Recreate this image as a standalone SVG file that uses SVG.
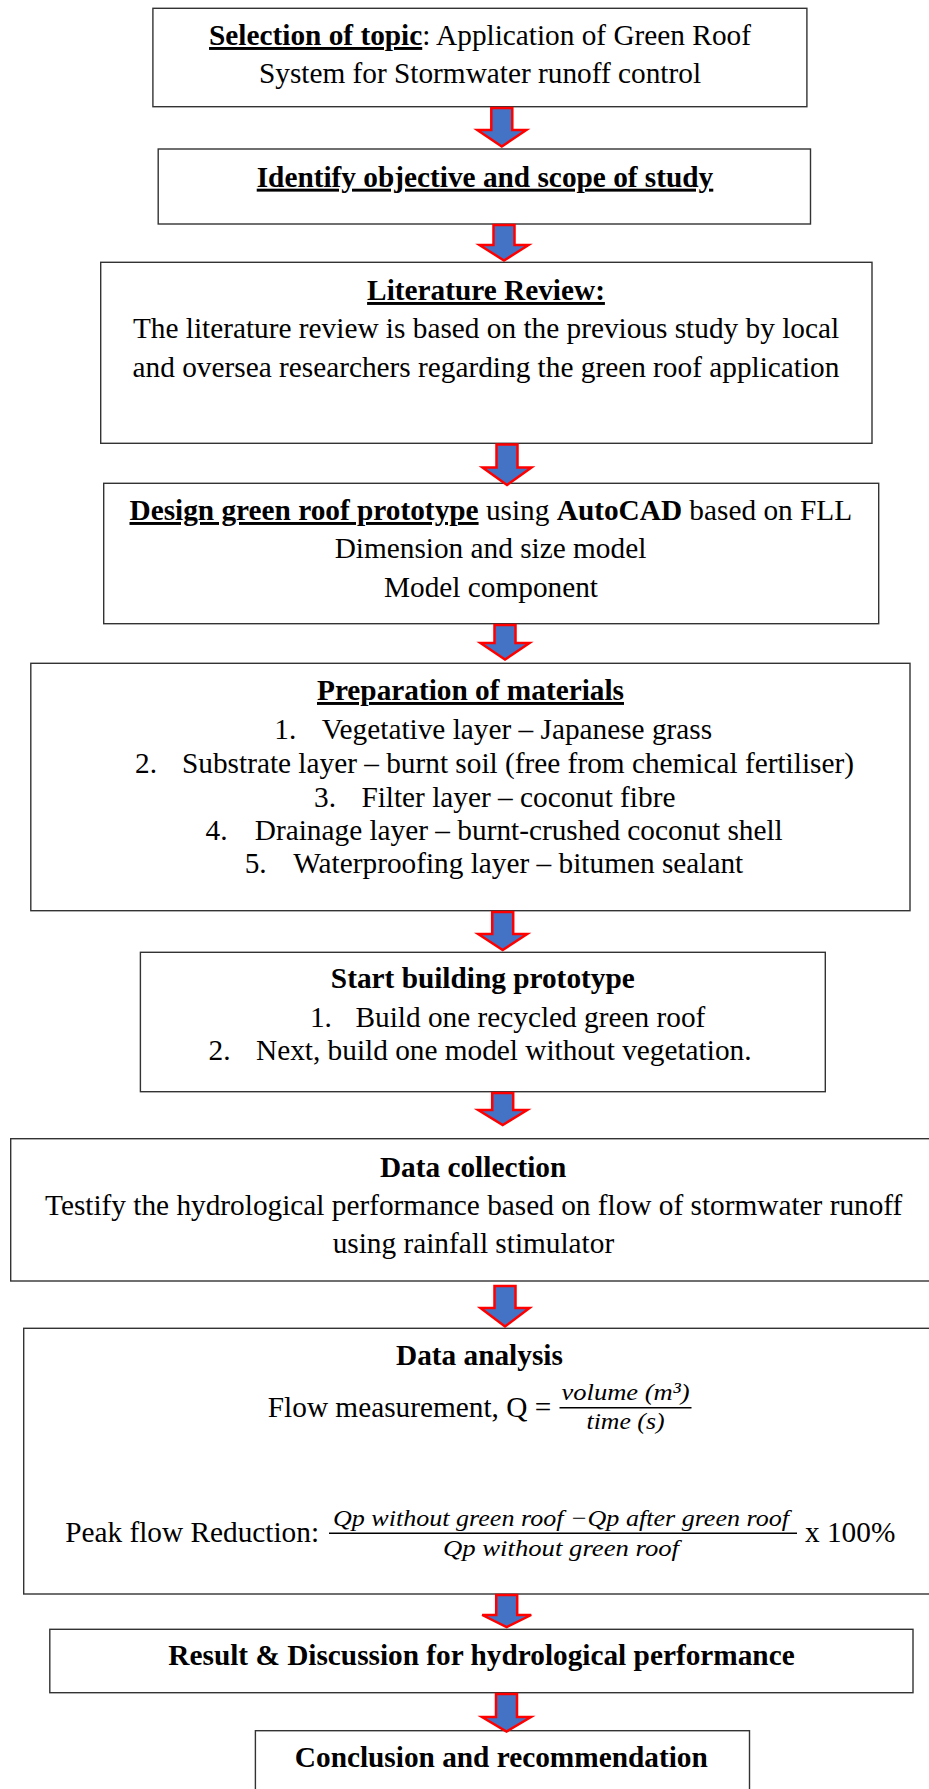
<svg xmlns="http://www.w3.org/2000/svg" width="929" height="1789" viewBox="0 0 929 1789">
<style>
.box{fill:#fff;stroke:#333;stroke-width:1.4}
.t{font-family:"Liberation Serif","Times New Roman",serif;font-size:29.3px;fill:#000}
.c{text-anchor:middle}
.b{font-weight:bold}
.u{text-decoration:underline}
.m{font-family:"Liberation Serif","Times New Roman",serif;font-style:italic;fill:#000;font-size:24px}
.arr{fill:#4472C4;stroke:#FF0000;stroke-width:2.5;stroke-linejoin:miter}
</style>
<rect width="929" height="1789" fill="#fff"/>
<g id="n1">
<rect class="box" x="152.9" y="8.3" width="654" height="98.4"/>
<text class="t c" x="480" y="45"><tspan class="b u">Selection of topic</tspan>: Application of Green Roof</text>
<text class="t c" x="480" y="83.3">System for Stormwater runoff control</text>
</g>
<g id="n2">
<rect class="box" x="158.2" y="149" width="652.3" height="75"/>
<text class="t c b u" x="485" y="186.7">Identify objective and scope of study</text>
</g>
<g id="n3">
<rect class="box" x="100.7" y="262.3" width="771.3" height="181"/>
<text class="t c b u" x="486" y="300">Literature Review:</text>
<text class="t c" x="486" y="338.3">The literature review is based on the previous study by local</text>
<text class="t c" x="486" y="376.7">and oversea researchers regarding the green roof application</text>
</g>
<g id="n4">
<rect class="box" x="103.7" y="483.3" width="775" height="140.4"/>
<text class="t c" x="490.8" y="520"><tspan class="b u">Design green roof prototype</tspan> using <tspan class="b">AutoCAD</tspan> based on FLL</text>
<text class="t c" x="490.5" y="558.3">Dimension and size model</text>
<text class="t c" x="491" y="596.7">Model component</text>
</g>
<g id="n5">
<rect class="box" x="30.8" y="663.3" width="879.2" height="247.4"/>
<text class="t c b u" x="470.5" y="700">Preparation of materials</text>
<text class="t" x="274.3" y="739.3">1.</text>
<text class="t" x="321.7" y="739.3">Vegetative layer – Japanese grass</text>
<text class="t" x="135" y="773.3">2.</text>
<text class="t" x="182" y="773.3">Substrate layer – burnt soil (free from chemical fertiliser)</text>
<text class="t" x="314" y="806.7">3.</text>
<text class="t" x="361.4" y="806.7">Filter layer – coconut fibre</text>
<text class="t" x="205.6" y="840">4.</text>
<text class="t" x="254.8" y="840">Drainage layer – burnt-crushed coconut shell</text>
<text class="t" x="244.7" y="873.3">5.</text>
<text class="t" x="293.3" y="873.3">Waterproofing layer – bitumen sealant</text>
</g>
<g id="n6">
<rect class="box" x="140.4" y="952.3" width="684.9" height="139.4"/>
<text class="t c b" x="482.8" y="988.3">Start building prototype</text>
<text class="t" x="309.9" y="1026.7">1.</text>
<text class="t" x="355.5" y="1026.7">Build one recycled green roof</text>
<text class="t" x="208.6" y="1060">2.</text>
<text class="t" x="256" y="1060">Next, build one model without vegetation.</text>
</g>
<g id="n7">
<rect class="box" x="10.7" y="1138.7" width="930" height="142.3"/>
<text class="t c b" x="473.1" y="1176.7">Data collection</text>
<text class="t c" x="473.7" y="1215">Testify the hydrological performance based on flow of stormwater runoff</text>
<text class="t c" x="473.4" y="1253.3">using rainfall stimulator</text>
</g>
<g id="n8">
<rect class="box" x="23.7" y="1328.3" width="920" height="265.7"/>
<text class="t c b" x="479.4" y="1365">Data analysis</text>
<text class="t" x="267.8" y="1416.7">Flow measurement, Q =</text>
<text class="m" x="561.5" y="1400" textLength="128" lengthAdjust="spacingAndGlyphs">volume (m³)</text>
<line x1="559.5" y1="1407.8" x2="691.5" y2="1407.8" stroke="#000" stroke-width="1.4"/>
<text class="m" x="586.5" y="1428.5" textLength="78" lengthAdjust="spacingAndGlyphs">time (s)</text>
<text class="t" x="65.2" y="1541.7">Peak flow Reduction:</text>
<text class="m" x="333" y="1525.5" textLength="456" lengthAdjust="spacingAndGlyphs">Qp without green roof −Qp after green roof</text>
<line x1="329" y1="1533.3" x2="797" y2="1533.3" stroke="#000" stroke-width="1.4"/>
<text class="m" x="443" y="1556" textLength="236" lengthAdjust="spacingAndGlyphs">Qp without green roof</text>
<text class="t" x="805" y="1541.7">x 100%</text>
</g>
<g id="n9">
<rect class="box" x="49.8" y="1629.3" width="863.2" height="63.4"/>
<text class="t c b" x="481.5" y="1665">Result &amp; Discussion for hydrological performance</text>
</g>
<g id="n10">
<rect class="box" x="255.4" y="1730.7" width="494.1" height="80"/>
<text class="t c b" x="501.3" y="1766.7">Conclusion and recommendation</text>
</g>
<g id="connectors">
<polygon class="arr" points="491.3,108 512.3,108 512.3,130 526.3,130 501.8,146.5 477.3,130 491.3,130"/>
<polygon class="arr" points="493.5,225 514.5,225 514.5,245 528.5,245 504,260.5 479.5,245 493.5,245"/>
<polygon class="arr" points="496.5,444.5 517.5,444.5 517.5,467.5 531.5,467.5 507,485 482.5,467.5 496.5,467.5"/>
<polygon class="arr" points="494.5,625 515.5,625 515.5,643 529.5,643 505,659.5 480.5,643 494.5,643"/>
<polygon class="arr" points="492.2,912 513.2,912 513.2,934 527.2,934 502.7,950 478.2,934 492.2,934"/>
<polygon class="arr" points="492.2,1093 513.2,1093 513.2,1110 527.2,1110 502.7,1125 478.2,1110 492.2,1110"/>
<polygon class="arr" points="494.5,1286 515.5,1286 515.5,1308 529.5,1308 505,1326.5 480.5,1308 494.5,1308"/>
<polygon class="arr" points="496.2,1595 517.2,1595 517.2,1615 531.2,1615 506.7,1627 482.2,1615 496.2,1615"/>
<polygon class="arr" points="496,1694 517,1694 517,1717 531,1717 506.5,1731.5 482,1717 496,1717"/>
</g>
</svg>
